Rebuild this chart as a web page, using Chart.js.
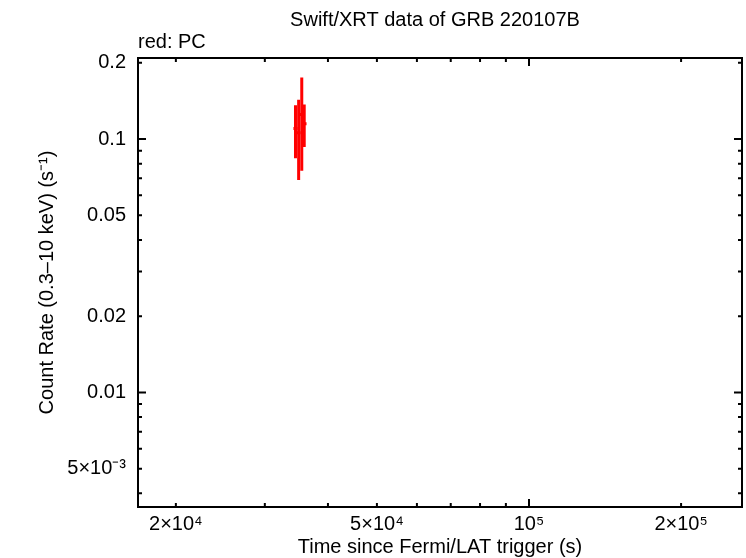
<!DOCTYPE html>
<html>
<head>
<meta charset="utf-8">
<script src="https://cdn.jsdelivr.net/npm/chart.js@4.4.1/dist/chart.umd.min.js"></script>
<style>
  html, body { margin: 0; padding: 0; background: #fff; }
  #wrap { width: 746px; height: 558px; }
</style>
</head>
<body>
<div id="wrap"><canvas id="grafico"></canvas></div>
<script>
// Swift/XRT PC mode points
const tiempos = [34500, 35000, 35500, 35900];
const tiemposErr = [320, 320, 320, 380];
const tasas = [0.110, 0.106, 0.125, 0.115];
const tasasErr = [0.026, 0.037, 0.050, 0.022];

const xTicks = [20000, 50000, 100000, 200000];
const xTickLabels = ["2×10⁴", "5×10⁴", "10⁵", "2×10⁵"];
const yTicks = [0.005, 0.01, 0.02, 0.05, 0.1, 0.2];
const yTickLabels = ["5×10⁻³", "0.01", "0.02", "0.05", "0.1", "0.2"];

const xMin = 16830, xMax = 264000;
const yMin = 0.00353, yMax = 0.209;

const FUENTE = "'Liberation Sans', Arial, Helvetica, sans-serif";

document.addEventListener("DOMContentLoaded", function () {
  const canvas = document.getElementById("grafico");

  const puntos = tiempos.map((t, i) => ({ x: t, y: tasas[i] }));

  const marcoPlugin = {
    id: "marco",
    afterDatasetsDraw(chart) {
      const ctx = chart.ctx;
      const xs = chart.scales.x;
      const ys = chart.scales.y;
      const area = chart.chartArea;
      ctx.save();
      ctx.beginPath();
      ctx.rect(area.left, area.top, area.right - area.left, area.bottom - area.top);
      ctx.clip();
      ctx.strokeStyle = "#ff0000";
      ctx.lineWidth = 3;
      ctx.lineCap = "butt";
      tiempos.forEach((t, i) => {
        const px = xs.getPixelForValue(t);
        const py = ys.getPixelForValue(tasas[i]);
        ctx.beginPath();
        ctx.moveTo(xs.getPixelForValue(t - tiemposErr[i]), py);
        ctx.lineTo(xs.getPixelForValue(t + tiemposErr[i]), py);
        ctx.moveTo(px, ys.getPixelForValue(tasas[i] - tasasErr[i]));
        ctx.lineTo(px, ys.getPixelForValue(tasas[i] + tasasErr[i]));
        ctx.stroke();
      });
      ctx.restore();
    },
    afterDraw(chart) {
      const ctx = chart.ctx;
      const xs = chart.scales.x;
      const ys = chart.scales.y;
      const a = chart.chartArea;
      ctx.save();
      ctx.strokeStyle = "#000";
      ctx.lineWidth = 2;

      // minor/major ticks, inward, mirrored on all sides
      for (let dec = 1e4; dec <= 1e6; dec *= 10) {
        for (let m = 1; m <= 9; m++) {
          const v = m * dec;
          if (v <= xMin || v >= xMax) continue;
          const px = xs.getPixelForValue(v);
          const len = m === 1 ? 8 : 4;
          ctx.beginPath();
          ctx.moveTo(px, a.bottom);
          ctx.lineTo(px, a.bottom - len);
          ctx.moveTo(px, a.top);
          ctx.lineTo(px, a.top + len);
          ctx.stroke();
        }
      }
      for (let dec = 1e-3; dec <= 1; dec *= 10) {
        for (let m = 1; m <= 9; m++) {
          const v = m * dec;
          if (v <= yMin || v >= yMax) continue;
          const py = ys.getPixelForValue(v);
          const len = m === 1 ? 8 : 4;
          ctx.beginPath();
          ctx.moveTo(a.left, py);
          ctx.lineTo(a.left + len, py);
          ctx.moveTo(a.right, py);
          ctx.lineTo(a.right - len, py);
          ctx.stroke();
        }
      }

      ctx.strokeRect(a.left, a.top, a.right - a.left, a.bottom - a.top);

      // texts
      ctx.fillStyle = "#000";
      ctx.font = "20px " + FUENTE;
      ctx.textBaseline = "middle";
      ctx.textAlign = "center";
      ctx.fillText("Swift/XRT data of GRB 220107B", 435, 20);
      ctx.fillText("Time since Fermi/LAT trigger (s)", (a.left + a.right) / 2, 547);
      ctx.textAlign = "left";
      ctx.fillText("red: PC", 138, 42);

      ctx.translate(47, (a.top + a.bottom) / 2);
      ctx.rotate(-Math.PI / 2);
      ctx.textAlign = "center";
      ctx.fillText("Count Rate (0.3\u201310 keV) (s\u207b\u00b9)", 0, 0);
      ctx.restore();
    },
  };

  new Chart(canvas, {
    type: "scatter",
    data: {
      datasets: [
        {
          label: "PC",
          data: puntos,
          pointRadius: 0,
          borderColor: "#ff0000",
          backgroundColor: "#ff0000",
        },
      ],
    },
    options: {
      responsive: true,
      maintainAspectRatio: false,
      animation: false,
      layout: {
        padding: { top: 58, right: 4, left: 0, bottom: 0 },
      },
      plugins: {
        legend: { display: false },
        tooltip: { enabled: false },
        title: { display: false },
      },
      scales: {
        x: {
          type: "logarithmic",
          min: xMin,
          max: xMax,
          grid: { display: false, drawTicks: false },
          border: { display: false },
          ticks: {
            color: "#000",
            font: { family: FUENTE, size: 20 },
            padding: 5,
            maxRotation: 0,
            autoSkip: false,
            callback: function (value, index) {
              return xTickLabels[index];
            },
          },
          afterBuildTicks: function (scale) {
            scale.ticks = xTicks.map((v) => ({ value: v }));
          },
          afterFit: function (scale) {
            scale.height = 51;
          },
        },
        y: {
          type: "logarithmic",
          min: yMin,
          max: yMax,
          grid: { display: false, drawTicks: false },
          border: { display: false },
          ticks: {
            color: "#000",
            font: { family: FUENTE, size: 20 },
            padding: 12,
            autoSkip: false,
            callback: function (value, index) {
              return yTickLabels[index];
            },
          },
          afterBuildTicks: function (scale) {
            scale.ticks = yTicks.map((v) => ({ value: v }));
          },
          afterFit: function (scale) {
            scale.width = 138;
          },
        },
      },
    },
    plugins: [marcoPlugin],
  });
});
</script>
</body>
</html>
